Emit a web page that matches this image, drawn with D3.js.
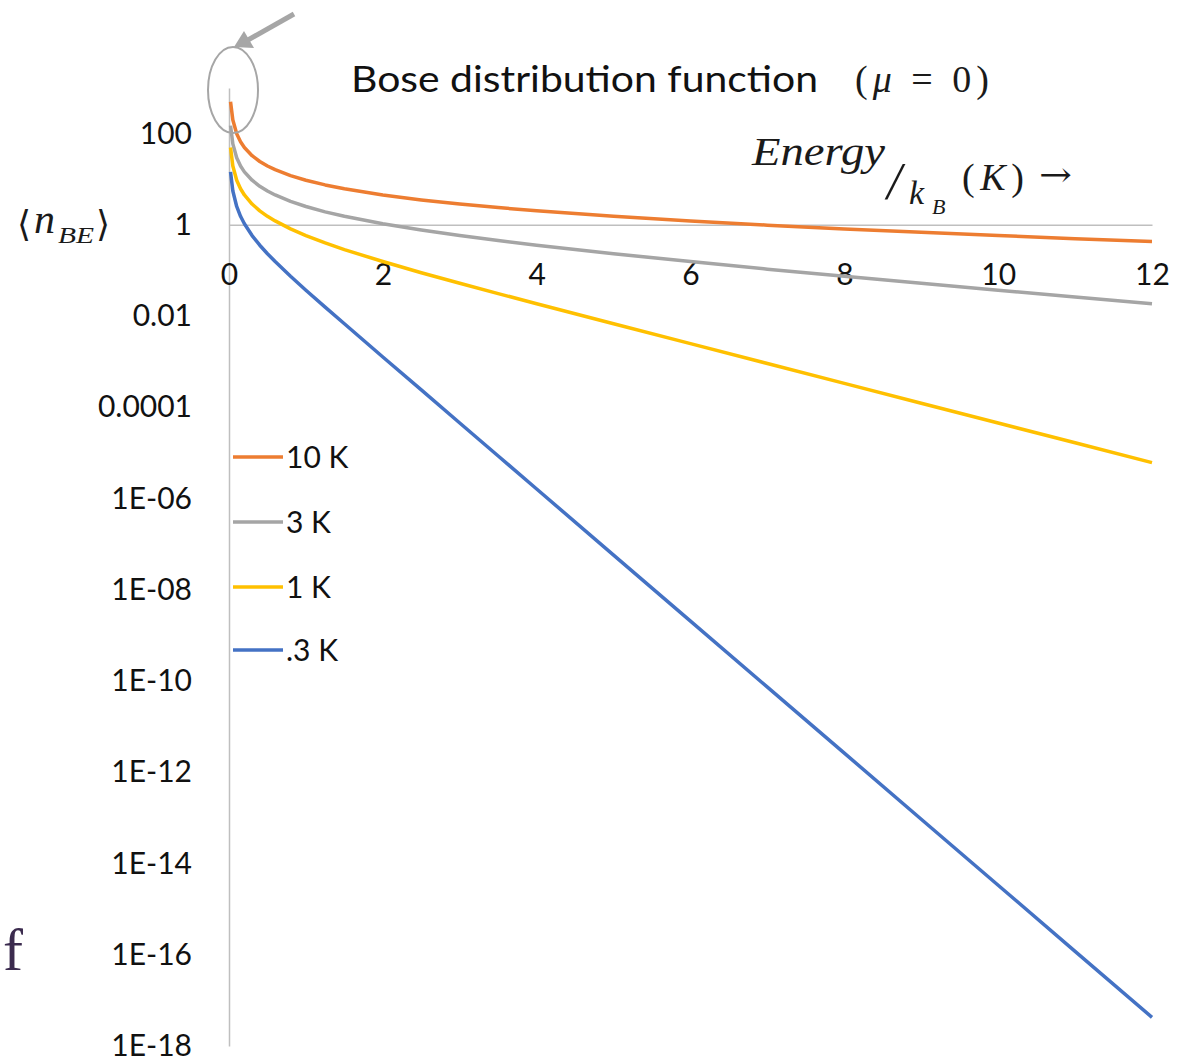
<!DOCTYPE html>
<html>
<head>
<meta charset="utf-8">
<script src="https://cdn.jsdelivr.net/npm/d3@7"></script>
<style>
  html, body { margin: 0; padding: 0; background: #ffffff; }
  svg { display: block; }
</style>
</head>
<body>
<svg id="chart" width="1191" height="1061"></svg>
<script>
// ---------- data ----------
const energies = [0.02, 0.05, 0.1, 0.15, 0.2, 0.3, 0.4, 0.5, 0.6, 0.8, 1, 1.25, 1.5, 2, 2.5, 3, 3.5, 4, 5, 6, 7, 8, 9, 10, 11, 12];
const n10K  = [499.5, 199.5, 99.5, 66.2, 49.5, 32.8, 24.5, 19.5, 16.2, 12.0, 9.51, 7.51, 6.18, 4.52, 3.52, 2.86, 2.39, 2.03, 1.54, 1.22, 0.986, 0.816, 0.685, 0.582, 0.499, 0.431];
const n3K   = [149.5, 59.5, 29.5, 19.5, 14.5, 9.51, 7.01, 5.51, 4.52, 3.27, 2.53, 1.93, 1.54, 1.055, 0.769, 0.582, 0.452, 0.358, 0.233, 0.157, 0.107, 0.0747, 0.0524, 0.0370, 0.0262, 0.0187];
const n1K   = [49.5, 19.5, 9.51, 6.18, 4.52, 2.86, 2.03, 1.54, 1.22, 0.816, 0.582, 0.402, 0.287, 0.157, 0.0894, 0.0524, 0.0311, 0.0187, 0.00678, 0.00249, 9.13e-4, 3.36e-4, 1.23e-4, 4.54e-5, 1.67e-5, 6.14e-6];
const n03K  = [14.5, 5.51, 2.53, 1.54, 1.055, 0.582, 0.358, 0.233, 0.157, 0.0747, 0.0370, 0.01575, 0.00678, 1.27e-3, 2.41e-4, 4.54e-5, 8.58e-6, 1.62e-6, 5.78e-8, 2.06e-9, 7.36e-11, 2.63e-12, 9.36e-14, 3.34e-15, 1.19e-16, 4.25e-18];
const seriesNames = ["10 K", "3 K", "1 K", ".3 K"];
const seriesValues = [n10K, n3K, n1K, n03K];
const seriesColors = ["#ED7D31", "#A5A5A5", "#FFC000", "#4472C4"];
const xTicks = [0, 2, 4, 6, 8, 10, 12];
const yTicks = [1e2, 1, 1e-2, 1e-4, 1e-6, 1e-8, 1e-10, 1e-12, 1e-14, 1e-16, 1e-18];
const yTickLabels = ["100", "1", "0.01", "0.0001", "1E-06", "1E-08", "1E-10", "1E-12", "1E-14", "1E-16", "1E-18"];

// ---------- scales ----------
const svg = d3.select("#chart");
const x = d3.scaleLinear().domain([0, 12]).range([229, 1152]);
const y = d3.scaleLog().domain([1e-18, 1e3]).range([1046, 88]);

const tickFont = "Lato, 'Open Sans', sans-serif";
const serif = "'Liberation Serif', 'DejaVu Serif', serif";
const ink = "#111111";

// ---------- y axis ----------
const yAxis = svg.append("g")
  .attr("transform", `translate(${x(0)},0)`)
  .call(d3.axisLeft(y).tickValues(yTicks).tickFormat((d, i) => yTickLabels[i]).tickSize(0).tickSizeOuter(0).tickPadding(37));
yAxis.select(".domain").attr("stroke", "#BFBFBF").attr("stroke-width", 1.5);
yAxis.selectAll("text").attr("font-family", tickFont).attr("font-size", 30).attr("fill", ink);

// ---------- x axis (at n = 1) ----------
const xAxis = svg.append("g")
  .attr("transform", `translate(0,${y(1)})`)
  .call(d3.axisBottom(x).tickValues(xTicks).tickSize(0).tickSizeOuter(0).tickPadding(39));
xAxis.select(".domain").attr("stroke", "#BFBFBF").attr("stroke-width", 1.5);
xAxis.selectAll("text").attr("font-family", tickFont).attr("font-size", 30).attr("fill", ink);

// ---------- series ----------
const line = d3.line().x(d => x(d[0])).y(d => y(d[1]));
seriesValues.forEach((vals, i) => {
  svg.append("path")
    .datum(energies.map((e, j) => [e, vals[j]]))
    .attr("d", line)
    .attr("fill", "none")
    .attr("stroke", seriesColors[i])
    .attr("stroke-width", 3.5)
    .attr("stroke-linejoin", "round");
});

// ---------- legend ----------
const legendY = [457, 522, 587, 650];
const leg = svg.append("g");
seriesNames.forEach((name, i) => {
  leg.append("line")
    .attr("x1", 233).attr("x2", 283)
    .attr("y1", legendY[i]).attr("y2", legendY[i])
    .attr("stroke", seriesColors[i]).attr("stroke-width", 3.5);
  leg.append("text")
    .attr("x", 286).attr("y", legendY[i]).attr("dy", "0.36em")
    .attr("font-family", tickFont).attr("font-size", 30).attr("fill", ink)
    .text(name);
});

// ---------- title ----------
svg.append("text")
  .attr("x", 351).attr("y", 92)
  .attr("font-family", tickFont).attr("font-size", 36).attr("fill", ink)
  .attr("textLength", 467).attr("lengthAdjust", "spacingAndGlyphs")
  .text("Bose distribution function");
const mu = svg.append("text")
  .attr("x", 855).attr("y", 92)
  .attr("font-family", serif).attr("font-size", 38).attr("fill", "#1a1a1a")
  .attr("textLength", 134).attr("lengthAdjust", "spacing");
mu.append("tspan").text("(");
mu.append("tspan").attr("font-style", "italic").text("μ");
mu.append("tspan").text(" = 0)");

// ---------- x-axis label: Energy / k_B (K) → ----------
const xl = svg.append("g").attr("font-family", serif).attr("fill", "#1a1a1a");
xl.append("text").attr("x", 752).attr("y", 165).attr("font-size", 40).attr("font-style", "italic")
  .attr("textLength", 133).attr("lengthAdjust", "spacingAndGlyphs").text("Energy");
xl.append("text").attr("x", 887).attr("y", 199).attr("font-size", 52).attr("font-style", "italic").text("/");
xl.append("text").attr("x", 909).attr("y", 204).attr("font-size", 34).attr("font-style", "italic").text("k");
xl.append("text").attr("x", 932).attr("y", 214).attr("font-size", 22).attr("font-style", "italic").text("B");
const kk = xl.append("text").attr("x", 962).attr("y", 190).attr("font-size", 38)
  .attr("textLength", 62).attr("lengthAdjust", "spacing");
kk.append("tspan").text("(");
kk.append("tspan").attr("font-style", "italic").text("K");
kk.append("tspan").text(")");
xl.append("text").attr("x", 1039).attr("y", 186).attr("font-size", 34)
  .attr("font-family", "'DejaVu Serif', serif").attr("textLength", 33).attr("lengthAdjust", "spacingAndGlyphs").text("→");

// ---------- y-axis label: ⟨n_BE⟩ ----------
const yl = svg.append("g").attr("fill", "#1a1a1a");
yl.append("text").attr("x", 17).attr("y", 236).attr("font-size", 36).attr("font-family", "'DejaVu Serif', serif").text("⟨");
yl.append("text").attr("x", 34).attr("y", 233).attr("font-size", 42).attr("font-family", serif).attr("font-style", "italic").text("n");
yl.append("text").attr("x", 58).attr("y", 243).attr("font-size", 24).attr("font-family", serif).attr("font-style", "italic")
  .attr("textLength", 36).attr("lengthAdjust", "spacingAndGlyphs").text("BE");
yl.append("text").attr("x", 96).attr("y", 236).attr("font-size", 36).attr("font-family", "'DejaVu Serif', serif").text("⟩");

// ---------- annotations (ellipse and arrow) ----------
svg.append("ellipse")
  .attr("cx", 233).attr("cy", 90).attr("rx", 25).attr("ry", 43)
  .attr("fill", "none").attr("stroke", "#A6A6A6").attr("stroke-width", 2);
svg.append("line")
  .attr("x1", 294).attr("y1", 14).attr("x2", 248).attr("y2", 40)
  .attr("stroke", "#A6A6A6").attr("stroke-width", 5);
svg.append("path")
  .attr("d", "M234,47 L244,31 L254,48 Z")
  .attr("fill", "#A6A6A6");

// ---------- stray slide glyph ----------
svg.append("text")
  .attr("x", 3).attr("y", 970)
  .attr("font-family", serif).attr("font-size", 60).attr("fill", "#3B2B4E")
  .text("f");
</script>
</body>
</html>
